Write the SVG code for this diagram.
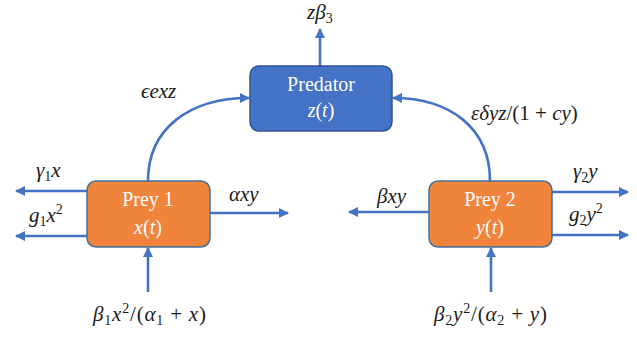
<svg xmlns="http://www.w3.org/2000/svg" width="637" height="337" viewBox="0 0 637 337">
<defs>
<marker id="ah" viewBox="0 0 10 10" refX="9" refY="5" markerWidth="4" markerHeight="4" orient="auto" markerUnits="strokeWidth">
<path d="M0,0 L10,5 L0,10 z" fill="#4472C4"/>
</marker>
<style>
.c{fill:none;stroke:#4472C4;stroke-width:2.6;marker-end:url(#ah)}
.box{stroke-width:1.5}
.bt{font-family:"Liberation Serif",serif;font-size:20px;fill:#ffffff;text-anchor:middle}
.m{font-family:"Liberation Serif",serif;font-size:21px;font-style:italic;fill:#1a1a1a}
.w{letter-spacing:0.8px}
.u{font-style:normal}
.s{font-size:14px}
</style>
</defs>
<rect width="637" height="337" fill="#ffffff"/>
<g id="connectors">
<path class="c" d="M320,66 L320,29"/>
<path class="c" d="M148,181 C148,128 190,98 249,98"/>
<path class="c" d="M490,181 C490,128 450,98 393,98"/>
<path class="c" d="M87,191 L16,191"/>
<path class="c" d="M87,236 L16,236"/>
<path class="c" d="M210,213 L288,213"/>
<path class="c" d="M148,292 L148,248"/>
<path class="c" d="M429,212 L349,212"/>
<path class="c" d="M552,192 L628,192"/>
<path class="c" d="M552,235 L628,235"/>
<path class="c" d="M491,292 L491,248"/>
</g>
<g id="predator">
<rect class="box" x="250" y="66" width="142" height="65" rx="9" fill="#4472C4" stroke="#2F5597"/>
<text class="bt" x="321" y="91">Predator</text>
<text class="bt" x="321" y="117" font-style="italic">z<tspan font-style="normal">(</tspan>t<tspan font-style="normal">)</tspan></text>
</g>
<g id="prey1">
<rect class="box" x="87" y="181" width="123" height="66" rx="9" fill="#F0843C" stroke="#41719C"/>
<text class="bt" x="148" y="206">Prey 1</text>
<text class="bt" x="148" y="234" font-style="italic">x<tspan font-style="normal">(</tspan>t<tspan font-style="normal">)</tspan></text>
</g>
<g id="prey2">
<rect class="box" x="429" y="181" width="123" height="66" rx="9" fill="#F0843C" stroke="#41719C"/>
<text class="bt" x="490" y="206">Prey 2</text>
<text class="bt" x="490" y="234" font-style="italic">y<tspan font-style="normal">(</tspan>t<tspan font-style="normal">)</tspan></text>
</g>
<g id="labels">
<text class="m" x="307" y="19">zβ<tspan class="u s" dy="4">3</tspan></text>
<text class="m" x="141" y="98">ϵexz</text>
<text class="m" x="471" y="120">εδyz<tspan class="u">/(1 + </tspan>cy<tspan class="u">)</tspan></text>
<text class="m" x="36" y="177">γ<tspan class="u s" dy="4">1</tspan><tspan dy="-4">x</tspan></text>
<text class="m" x="29" y="222">g<tspan class="u s" dy="4">1</tspan><tspan dy="-4">x</tspan><tspan class="u s" dy="-8">2</tspan></text>
<text class="m" x="229" y="201">αxy</text>
<text class="m" x="377" y="203">βxy</text>
<text class="m" x="573" y="178">γ<tspan class="u s" dy="4">2</tspan><tspan dy="-4">y</tspan></text>
<text class="m" x="569" y="221">g<tspan class="u s" dy="4">2</tspan><tspan dy="-4">y</tspan><tspan class="u s" dy="-8">2</tspan></text>
<text class="m w" x="93" y="321">β<tspan class="u s" dy="4">1</tspan><tspan dy="-4">x</tspan><tspan class="u s" dy="-8">2</tspan><tspan class="u" dy="8">/(</tspan>α<tspan class="u s" dy="4">1</tspan><tspan class="u" dy="-4"> + </tspan>x<tspan class="u">)</tspan></text>
<text class="m w" x="434" y="321">β<tspan class="u s" dy="4">2</tspan><tspan dy="-4">y</tspan><tspan class="u s" dy="-8">2</tspan><tspan class="u" dy="8">/(</tspan>α<tspan class="u s" dy="4">2</tspan><tspan class="u" dy="-4"> + </tspan>y<tspan class="u">)</tspan></text>
</g>
</svg>
